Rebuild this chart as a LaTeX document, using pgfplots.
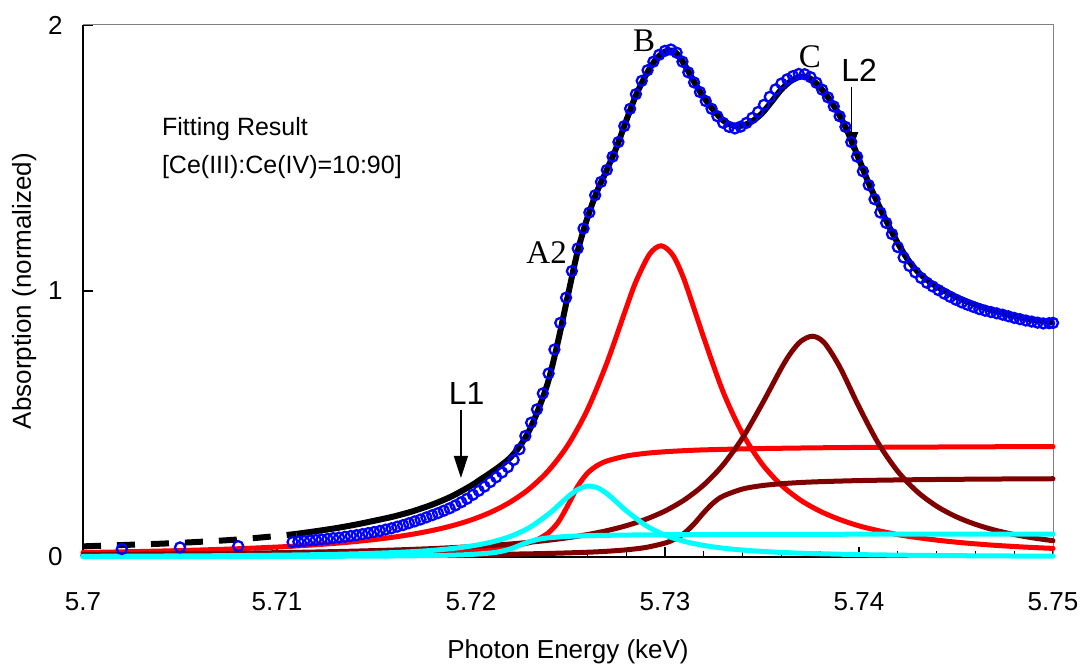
\documentclass[border=0pt]{standalone}
\usepackage{pgfplots}
\usepackage{pgfplotstable}
\pgfplotsset{compat=1.18}
\usepackage{fontspec}
\setmainfont{Liberation Sans}
\newfontfamily\timesfont{Liberation Serif}
\usetikzlibrary{arrows.meta}

\definecolor{cered}{RGB}{255,0,0}
\definecolor{cemaroon}{RGB}{128,0,0}
\definecolor{cecyan}{RGB}{0,255,255}
\definecolor{ceblue}{RGB}{0,0,255}

% Ce(IV) main peak (B)
\pgfplotstableread{
x y
5.700 0.0168
5.702 0.0193
5.704 0.0224
5.706 0.0262
5.708 0.0311
5.710 0.0374
5.711 0.0414
5.712 0.0460
5.713 0.0514
5.714 0.0578
5.715 0.0654
5.716 0.0746
5.717 0.0858
5.718 0.0997
5.719 0.1170
5.720 0.1391
5.721 0.1677
5.722 0.2055
5.723 0.2561
5.724 0.3254
5.725 0.4212
5.726 0.5534
5.727 0.7290
5.728 0.9360
5.7285 1.0350
5.7292 1.1380
5.7298 1.1700
5.7304 1.1350
5.731 1.0400
5.732 0.8240
5.733 0.6200
5.734 0.4630
5.735 0.3500
5.736 0.2700
5.737 0.2130
5.738 0.1720
5.739 0.1410
5.740 0.1170
5.741 0.0990
5.742 0.0840
5.743 0.0730
5.744 0.0635
5.745 0.0558
5.746 0.0494
5.747 0.0440
5.748 0.0395
5.749 0.0356
5.750 0.0323
}\redpeak

% Ce(IV) edge step
\pgfplotstableread{
x y
5.700 0.0047
5.702 0.0051
5.704 0.0056
5.706 0.0062
5.708 0.0069
5.710 0.0078
5.712 0.0090
5.714 0.0108
5.716 0.0132
5.718 0.0169
5.719 0.0196
5.720 0.0234
5.721 0.0289
5.722 0.0378
5.723 0.0541
5.7235 0.0685
5.724 0.0917
5.7245 0.1314
5.725 0.1952
5.7255 0.2659
5.726 0.3150
5.7265 0.3436
5.727 0.3608
5.728 0.3797
5.729 0.3897
5.730 0.3957
5.731 0.3998
5.732 0.4027
5.734 0.4064
5.736 0.4088
5.738 0.4106
5.740 0.4119
5.742 0.4129
5.744 0.4135
5.746 0.4142
5.748 0.4147
5.750 0.4151
}\redstep

% Ce(IV) second peak (C)
\pgfplotstableread{
x y
5.700 0.0088
5.702 0.0098
5.704 0.0110
5.706 0.0125
5.708 0.0142
5.710 0.0163
5.712 0.0188
5.714 0.0221
5.716 0.0262
5.718 0.0316
5.720 0.0388
5.721 0.0434
5.722 0.0488
5.723 0.0553
5.724 0.0631
5.725 0.0726
5.726 0.0843
5.727 0.0990
5.728 0.1176
5.729 0.1416
5.730 0.1730
5.731 0.2148
5.732 0.2711
5.733 0.3471
5.734 0.4481
5.735 0.5746
5.736 0.7104
5.7365 0.7688
5.737 0.8108
5.7376 0.8300
5.7382 0.8063
5.739 0.7155
5.740 0.5646
5.741 0.4270
5.742 0.3217
5.743 0.2455
5.744 0.1911
5.745 0.1517
5.746 0.1228
5.747 0.1011
5.748 0.0844
5.749 0.0715
5.750 0.0612
}\maroonpeak

% second edge step
\pgfplotstableread{
x y
5.700 0.0033
5.702 0.0035
5.704 0.0038
5.706 0.0041
5.708 0.0044
5.710 0.0048
5.712 0.0053
5.714 0.0059
5.716 0.0066
5.718 0.0076
5.720 0.0089
5.722 0.0107
5.724 0.0134
5.726 0.0179
5.727 0.0215
5.728 0.0269
5.729 0.0357
5.730 0.0524
5.7305 0.0671
5.731 0.0900
5.7315 0.1246
5.732 0.1672
5.7325 0.2041
5.733 0.2291
5.734 0.2557
5.735 0.2684
5.736 0.2755
5.737 0.2801
5.738 0.2832
5.740 0.2873
5.742 0.2897
5.744 0.2914
5.746 0.2926
5.748 0.2935
5.750 0.2942
}\maroonstep

% Ce(III) peak (A2)
\pgfplotstableread{
x y
5.700 0.0026
5.702 0.0031
5.704 0.0037
5.706 0.0044
5.708 0.0054
5.710 0.0068
5.712 0.0088
5.714 0.0118
5.716 0.0166
5.717 0.0202
5.718 0.0249
5.719 0.0316
5.720 0.0411
5.721 0.0551
5.722 0.0766
5.723 0.1102
5.724 0.1616
5.7245 0.1937
5.725 0.2265
5.7255 0.2535
5.726 0.2666
5.7265 0.2608
5.727 0.2384
5.7275 0.2070
5.728 0.1741
5.729 0.1190
5.730 0.0822
5.731 0.0587
5.732 0.0434
5.733 0.0332
5.734 0.0261
5.735 0.0210
5.736 0.0172
5.737 0.0144
5.738 0.0122
5.740 0.0090
5.742 0.0070
5.744 0.0055
5.746 0.0045
5.748 0.0037
5.750 0.0031
}\cyanpeak

% Ce(III) edge step
\pgfplotstableread{
x y
5.700 0.0011
5.704 0.0014
5.708 0.0017
5.712 0.0024
5.716 0.0038
5.718 0.0055
5.719 0.0070
5.720 0.0096
5.721 0.0150
5.7215 0.0203
5.722 0.0295
5.7225 0.0435
5.723 0.0575
5.7235 0.0667
5.724 0.0720
5.725 0.0774
5.726 0.0801
5.727 0.0815
5.728 0.0825
5.730 0.0837
5.732 0.0844
5.735 0.0850
5.740 0.0856
5.745 0.0859
5.750 0.0861
}\cyanstep

% total fit, low-energy part
\pgfplotstableread{
x y
5.700 0.040
5.702 0.045
5.704 0.050
5.706 0.057
5.708 0.066
5.710 0.079
5.711 0.087
}\fitlow

% total fit
\pgfplotstableread{
x y
5.711 0.087
5.712 0.097
5.713 0.108
5.714 0.121
5.715 0.136
5.716 0.152
5.717 0.172
5.718 0.197
5.719 0.228
5.720 0.268
5.7205 0.292
5.721 0.316
5.7215 0.342
5.722 0.372
5.7225 0.415
5.723 0.475
5.7235 0.560
5.724 0.665
5.7245 0.815
5.725 0.985
5.7255 1.150
5.726 1.275
5.7265 1.375
5.727 1.455
5.7275 1.540
5.728 1.640
5.7285 1.735
5.729 1.810
5.7295 1.868
5.730 1.900
5.7305 1.900
5.731 1.852
5.7315 1.786
5.732 1.728
5.7325 1.680
5.733 1.641
5.7335 1.622
5.734 1.622
5.7345 1.638
5.735 1.668
5.7355 1.712
5.736 1.758
5.7365 1.790
5.737 1.806
5.7375 1.798
5.738 1.765
5.7385 1.718
5.739 1.660
5.7395 1.585
5.740 1.495
5.7405 1.405
5.741 1.325
5.7415 1.250
5.742 1.180
5.7425 1.120
5.743 1.075
5.7435 1.042
5.744 1.017
5.745 0.978
5.746 0.948
5.747 0.925
5.748 0.906
5.749 0.892
5.750 0.882
}\fittotal

% measured spectrum
\pgfplotstableread{
x y
5.7020 0.030
5.7050 0.036
5.7080 0.041
5.7108 0.056
5.7111 0.058
5.7114 0.060
5.7117 0.062
5.7120 0.064
5.7123 0.066
5.7126 0.068
5.7129 0.071
5.7132 0.073
5.7135 0.076
5.7138 0.079
5.7141 0.082
5.7144 0.086
5.7147 0.090
5.7150 0.094
5.7153 0.098
5.7156 0.103
5.7159 0.108
5.7162 0.114
5.7165 0.120
5.7168 0.127
5.7171 0.134
5.7174 0.141
5.7177 0.149
5.7180 0.157
5.7183 0.165
5.7186 0.174
5.7189 0.183
5.7192 0.194
5.7195 0.206
5.7198 0.219
5.7201 0.234
5.7204 0.249
5.7207 0.265
5.7210 0.282
5.7213 0.300
5.7216 0.318
5.7219 0.338
5.7222 0.365
5.7225 0.405
5.7228 0.455
5.7231 0.505
5.7234 0.555
5.7237 0.615
5.7240 0.690
5.7243 0.780
5.7246 0.880
5.7249 0.975
5.7252 1.075
5.7255 1.160
5.7258 1.235
5.7261 1.295
5.7264 1.360
5.7267 1.410
5.7270 1.455
5.7273 1.505
5.7276 1.560
5.7279 1.620
5.7282 1.685
5.7285 1.740
5.7288 1.790
5.7291 1.830
5.7294 1.862
5.7297 1.888
5.7300 1.903
5.7303 1.908
5.7306 1.896
5.7309 1.862
5.7312 1.822
5.7315 1.784
5.7318 1.748
5.7321 1.714
5.7324 1.685
5.7327 1.657
5.7330 1.632
5.7333 1.617
5.7336 1.611
5.7339 1.618
5.7342 1.632
5.7345 1.651
5.7348 1.673
5.7351 1.700
5.7354 1.730
5.7357 1.758
5.7360 1.780
5.7363 1.796
5.7366 1.808
5.7369 1.816
5.7372 1.815
5.7375 1.804
5.7378 1.783
5.7381 1.757
5.7384 1.728
5.7387 1.694
5.7390 1.657
5.7393 1.617
5.7396 1.560
5.7399 1.505
5.7402 1.450
5.7405 1.398
5.7408 1.345
5.7411 1.295
5.7414 1.256
5.7417 1.214
5.7420 1.165
5.7423 1.126
5.7426 1.094
5.7429 1.070
5.7432 1.049
5.7435 1.031
5.7438 1.017
5.7441 1.003
5.7444 0.990
5.7447 0.978
5.7450 0.967
5.7453 0.957
5.7456 0.948
5.7459 0.940
5.7462 0.932
5.7465 0.926
5.7468 0.921
5.7471 0.916
5.7474 0.911
5.7477 0.905
5.7480 0.899
5.7483 0.894
5.7486 0.889
5.7489 0.885
5.7492 0.881
5.7495 0.878
5.7498 0.879
5.7500 0.880
}\measured

\begin{document}
\begin{tikzpicture}
\begin{axis}[
  scale only axis,
  width=485pt, height=266pt,
  xmin=5.7, xmax=5.75, ymin=0, ymax=2,
  axis lines*=left,
  axis line style={line width=0.65pt, black},
  xtick={5.7,5.71,5.72,5.73,5.74,5.75},
  xticklabels={5.7,5.71,5.72,5.73,5.74,5.75},
  minor x tick num=4,
  ytick={0,1,2},
  yticklabels={0,1,2},
  tick align=inside,
  major tick length=5pt,
  minor tick length=3pt,
  tick style={black, line width=0.6pt},
  tick label style={font=\fontsize{13}{15}\selectfont, inner sep=0pt},
  xticklabel style={anchor=north, yshift=-17.5pt},
  yticklabel style={anchor=east, xshift=-10pt},
  clip=false,
]
\coordinate (pa-sw) at (rel axis cs:0,0);
\coordinate (pa-ne) at (rel axis cs:1,1);

% plot frame, top and right
\draw[gray, line width=0.5pt] (rel axis cs:0,1) -- (rel axis cs:1,1) -- (rel axis cs:1,0);

% fitted components
\addplot[cered, line width=2.5pt, line cap=round, smooth] table[x=x,y=y] {\redstep};
\addplot[cered, line width=2.5pt, line cap=round, smooth] table[x=x,y=y] {\redpeak};
\addplot[cemaroon, line width=2.5pt, line cap=round, smooth] table[x=x,y=y] {\maroonstep};
\addplot[cemaroon, line width=2.5pt, line cap=round, smooth] table[x=x,y=y] {\maroonpeak};
\addplot[cecyan, line width=2.5pt, line cap=round, smooth] table[x=x,y=y] {\cyanstep};
\addplot[cecyan, line width=2.5pt, line cap=round, smooth] table[x=x,y=y] {\cyanpeak};

% total fit
\addplot[black, line width=3pt, dash pattern=on 9pt off 8pt, smooth] table[x=x,y=y] {\fitlow};
\addplot[black, line width=3pt, smooth] table[x=x,y=y] {\fittotal};

% measured spectrum
\addplot[only marks, mark=o, mark size=2.5pt, mark options={ceblue, line width=1.15pt}] table[x=x,y=y] {\measured};

% annotations
\node[font=\timesfont\fontsize{16.5}{18}\selectfont] at (axis cs:5.72892,1.940) {B};
\node[font=\timesfont\fontsize{16.5}{18}\selectfont] at (axis cs:5.73747,1.881) {C};
\node[font=\timesfont\fontsize{16.5}{18}\selectfont] at (axis cs:5.72390,1.145) {A2};
\node[font=\fontsize{16}{18}\selectfont] at (axis cs:5.71978,0.615) {L1};
\node[font=\fontsize{16}{18}\selectfont] at (axis cs:5.74001,1.828) {L2};
\draw[line width=0.75pt, -{Triangle[length=11pt,width=7pt]}] (axis cs:5.71948,0.553) -- (axis cs:5.71948,0.297);
\draw[line width=0.75pt, -{Triangle[length=9pt,width=6.5pt]}] (axis cs:5.73962,1.767) -- (axis cs:5.73962,1.530);

\node[anchor=base west, font=\fontsize{12.5}{15}\selectfont] at (axis cs:5.70371,1.583) {Fitting Result};
\node[anchor=base west, font=\fontsize{12.5}{15}\selectfont] at (axis cs:5.70371,1.442) {[Ce(III):Ce(IV)=10:90]};

% axis titles
\node[anchor=base, font=\fontsize{13}{15}\selectfont] at ([yshift=-50.5pt]rel axis cs:0.5,0) {Photon Energy (keV)};
\node[rotate=90, anchor=base, font=\fontsize{13}{15}\selectfont] at ([xshift=-26pt]rel axis cs:0,0.5) {Absorption (normalized)};
\end{axis}
\pgfresetboundingbox
\path[use as bounding box] ([xshift=-41.5pt,yshift=-55.5pt]pa-sw) rectangle ([xshift=16pt,yshift=12.5pt]pa-ne);
\end{tikzpicture}
\end{document}
